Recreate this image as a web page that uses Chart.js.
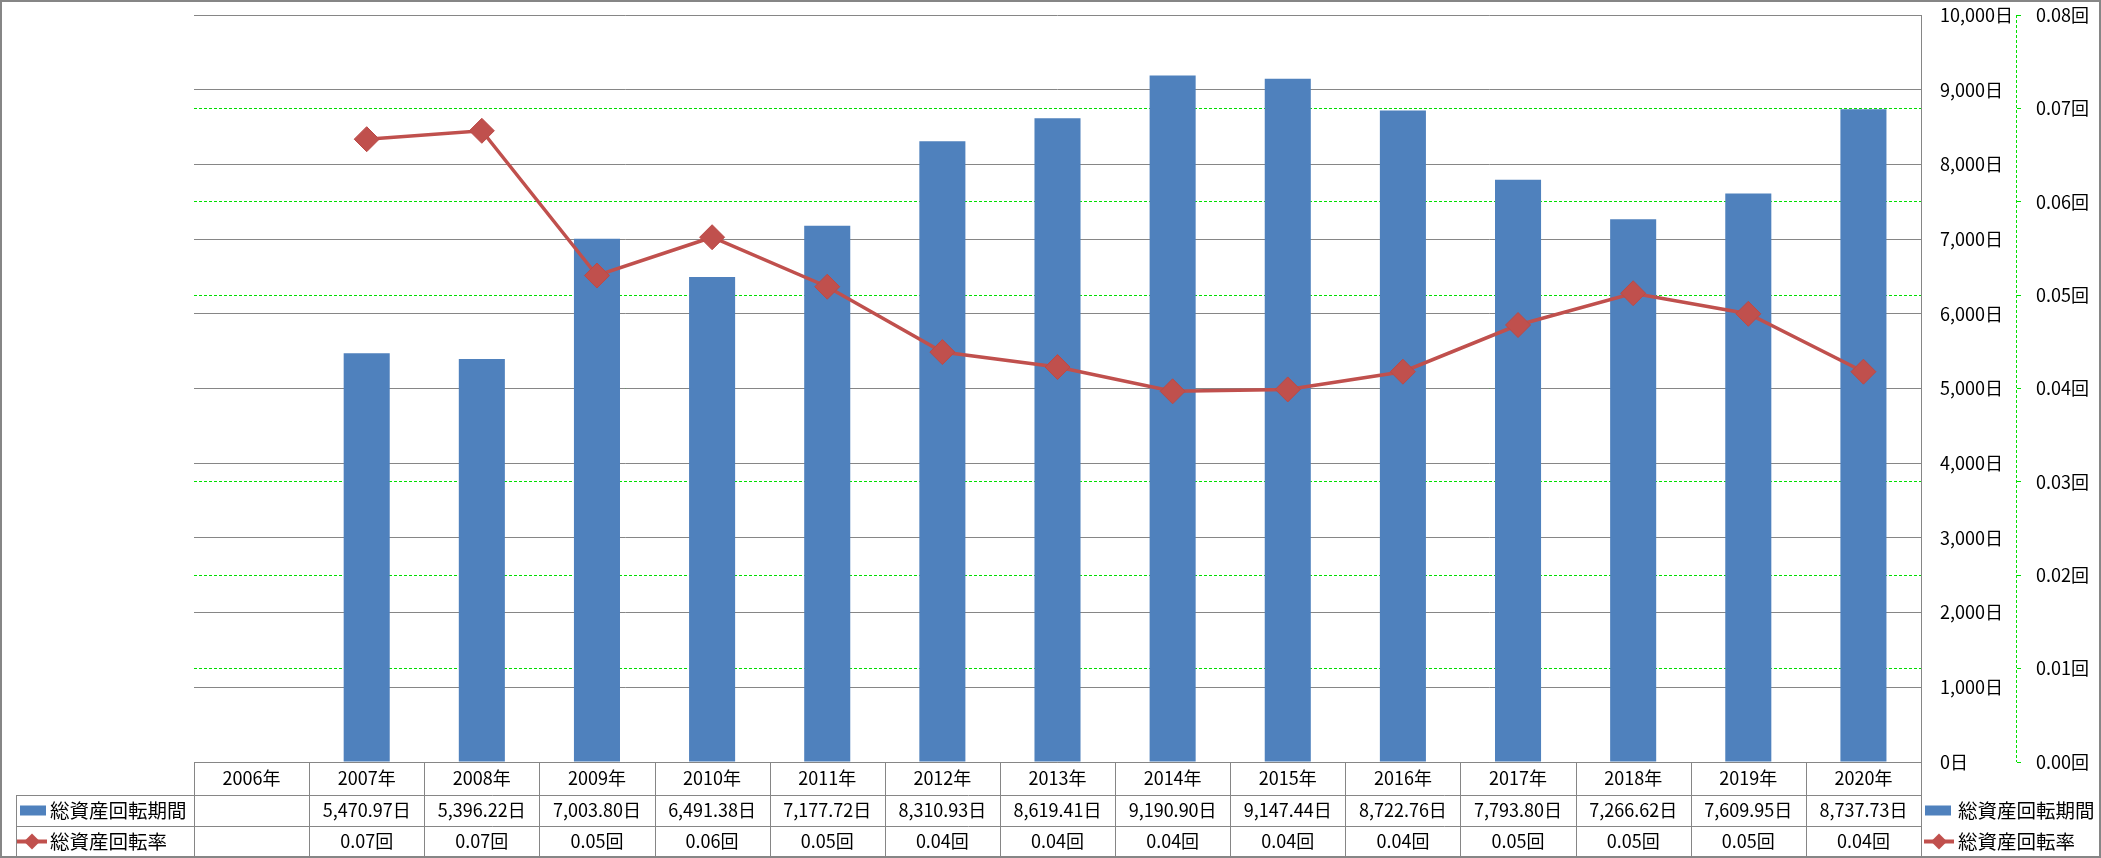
<!DOCTYPE html>
<html>
<head>
<meta charset="utf-8">
<script src="https://cdn.jsdelivr.net/npm/chart.js@4.4.0/dist/chart.umd.min.js"></script>
<style>
html,body{margin:0;padding:0;background:#fff;}
#wrap{width:2101px;height:858px;position:relative;}
</style>
</head>
<body>
<div id="wrap"><canvas id="c" width="2101" height="858"></canvas></div>
<script>
const categories = ['2006年','2007年','2008年','2009年','2010年','2011年','2012年','2013年','2014年','2015年','2016年','2017年','2018年','2019年','2020年'];
const periodName = '総資産回転期間';
const rateName = '総資産回転率';
const periodValues = [null, 5470.97, 5396.22, 7003.80, 6491.38, 7177.72, 8310.93, 8619.41, 9190.90, 9147.44, 8722.76, 7793.80, 7266.62, 7609.95, 8737.73];
const rateValues = [null, 0.0667, 0.0676, 0.0521, 0.0562, 0.0509, 0.0439, 0.0423, 0.0397, 0.0399, 0.0418, 0.0468, 0.0502, 0.0480, 0.0418];
const dayUnit = '日';
const timesUnit = '回';

const FONT = '"Noto Sans CJK JP", "Noto Sans", sans-serif';
const GRAY = '#868686';
const GREEN = '#00e000';
const BLUE = '#4f81bd';
const RED = '#c0504d';

function fmtDay(v){
  return v.toLocaleString('en-US',{minimumFractionDigits:2, maximumFractionDigits:2}) + dayUnit;
}
function fmtRate(v){ return v.toFixed(2) + timesUnit; }

function drawDiamond(ctx, x, y, r){
  ctx.beginPath();
  ctx.moveTo(x, y - r); ctx.lineTo(x + r, y); ctx.lineTo(x, y + r); ctx.lineTo(x - r, y);
  ctx.closePath(); ctx.fill();
}

const tablePlugin = {
  id: 'tablePlugin',
  afterDraw(chart){
    const ctx = chart.ctx;
    const xs = chart.scales.x;
    const y1 = chart.scales.y1;
    const area = chart.chartArea;
    const n = categories.length;
    const colW = (area.right - area.left) / n;
    const top = area.bottom;
    const rowH = [33, 31, 31];
    const r1 = top + rowH[0], r2 = r1 + rowH[1], r3 = r2 + rowH[2];
    const labelLeft = 16;
    ctx.save();
    ctx.strokeStyle = GRAY; ctx.lineWidth = 1;
    const h = (x1, x2, y) => { ctx.beginPath(); ctx.moveTo(x1, Math.round(y)+0.5); ctx.lineTo(x2, Math.round(y)+0.5); ctx.stroke(); };
    const v = (x, ya, yb) => { ctx.beginPath(); ctx.moveTo(Math.round(x)+0.5, ya); ctx.lineTo(Math.round(x)+0.5, yb); ctx.stroke(); };
    h(area.left, area.right, top);
    h(labelLeft, area.right, r1);
    h(labelLeft, area.right, r2);
    for (let i = 0; i <= n; i++) v(area.left + i*colW, top, r3);
    v(labelLeft, r1, r3);
    // dashed green secondary axis line
    ctx.strokeStyle = GREEN; ctx.setLineDash([3,2]);
    v(y1.left - 1, area.top, area.bottom);
    ctx.setLineDash([]);
    // outer border
    ctx.strokeStyle = GRAY; ctx.lineWidth = 2;
    ctx.strokeRect(1, 1, chart.width - 2, chart.height - 2);
    // texts
    ctx.fillStyle = '#000';
    ctx.font = '18px ' + FONT;
    ctx.textBaseline = 'middle';
    ctx.textAlign = 'center';
    for (let i = 0; i < n; i++) {
      const cx = xs.getPixelForValue(i);
      ctx.fillText(categories[i], cx, (top + r1)/2);
      if (periodValues[i] != null) ctx.fillText(fmtDay(periodValues[i]), cx, (r1 + r2)/2);
      if (rateValues[i] != null) ctx.fillText(fmtRate(rateValues[i]), cx, (r2 + r3)/2);
    }
    // row labels with keys
    ctx.textAlign = 'left';
    ctx.font = '19.5px ' + FONT;
    const drawKeyBar = (x, y) => { ctx.fillStyle = BLUE; ctx.fillRect(x, y - 5, 26, 10); };
    const drawKeyLine = (x, y) => {
      ctx.strokeStyle = RED; ctx.lineWidth = 4;
      ctx.beginPath(); ctx.moveTo(x, y); ctx.lineTo(x + 30, y); ctx.stroke();
      ctx.fillStyle = RED; drawDiamond(ctx, x + 15, y, 8);
    };
    const yA = (r1 + r2)/2, yB = (r2 + r3)/2;
    drawKeyBar(20, yA);
    drawKeyLine(17, yB);
    ctx.fillStyle = '#000';
    ctx.fillText(periodName, 50, yA);
    ctx.fillText(rateName, 50, yB);
    // legend on the right
    drawKeyBar(1925, yA);
    drawKeyLine(1924, yB);
    ctx.fillStyle = '#000';
    ctx.fillText(periodName, 1958, yA);
    ctx.fillText(rateName, 1958, yB);
    ctx.restore();
  }
};

new Chart(document.getElementById('c'), {
  type: 'bar',
  data: {
    labels: categories,
    datasets: [
      {
        type: 'line',
        label: rateName,
        data: rateValues,
        yAxisID: 'y1',
        borderColor: RED,
        backgroundColor: RED,
        borderWidth: 3.5,
        pointStyle: 'rectRot',
        pointRadius: 12.5,
        pointHoverRadius: 12.5,
        pointBackgroundColor: RED,
        pointBorderColor: '#bb4a47',
        pointBorderWidth: 1,
        tension: 0,
        order: 0
      },
      {
        type: 'bar',
        label: periodName,
        data: periodValues,
        yAxisID: 'y',
        backgroundColor: BLUE,
        borderWidth: 0,
        barPercentage: 0.8,
        categoryPercentage: 0.5,
        order: 1
      }
    ]
  },
  options: {
    responsive: false,
    animation: false,
    devicePixelRatio: 1,
    layout: { padding: { left: 194, top: 15, right: 2, bottom: 96 } },
    plugins: { legend: { display: false }, tooltip: { enabled: false } },
    scales: {
      x: { display: false, offset: true },
      y: {
        position: 'right',
        min: 0, max: 10000,
        ticks: {
          stepSize: 1000,
          padding: 19,
          crossAlign: 'near',
          color: '#000',
          font: { size: 18, family: FONT },
          callback: v => v.toLocaleString('en-US') + dayUnit
        },
        grid: { color: GRAY, lineWidth: 1, drawTicks: false, z: -1 },
        border: { display: true, color: GRAY, width: 1 },
        afterFit: s => { s.width = 96; s.paddingTop = 0; s.paddingBottom = 0; }
      },
      y1: {
        position: 'right',
        min: 0, max: 0.08,
        ticks: {
          stepSize: 0.01,
          padding: 15,
          crossAlign: 'near',
          color: '#000',
          font: { size: 18, family: FONT },
          callback: v => v.toFixed(2) + timesUnit
        },
        grid: {
          color: c => (c.tick && (c.tick.value === 0 || Math.abs(c.tick.value - 0.08) < 1e-9)) ? 'rgba(0,0,0,0)' : GREEN,
          lineWidth: 1,
          drawTicks: true,
          tickLength: 4,
          tickColor: GREEN,
          z: -2
        },
        border: { display: false, dash: [3,2] },
        afterFit: s => { s.width = 82; s.paddingTop = 0; s.paddingBottom = 0; }
      }
    }
  },
  plugins: [tablePlugin]
});
</script>
</body>
</html>
